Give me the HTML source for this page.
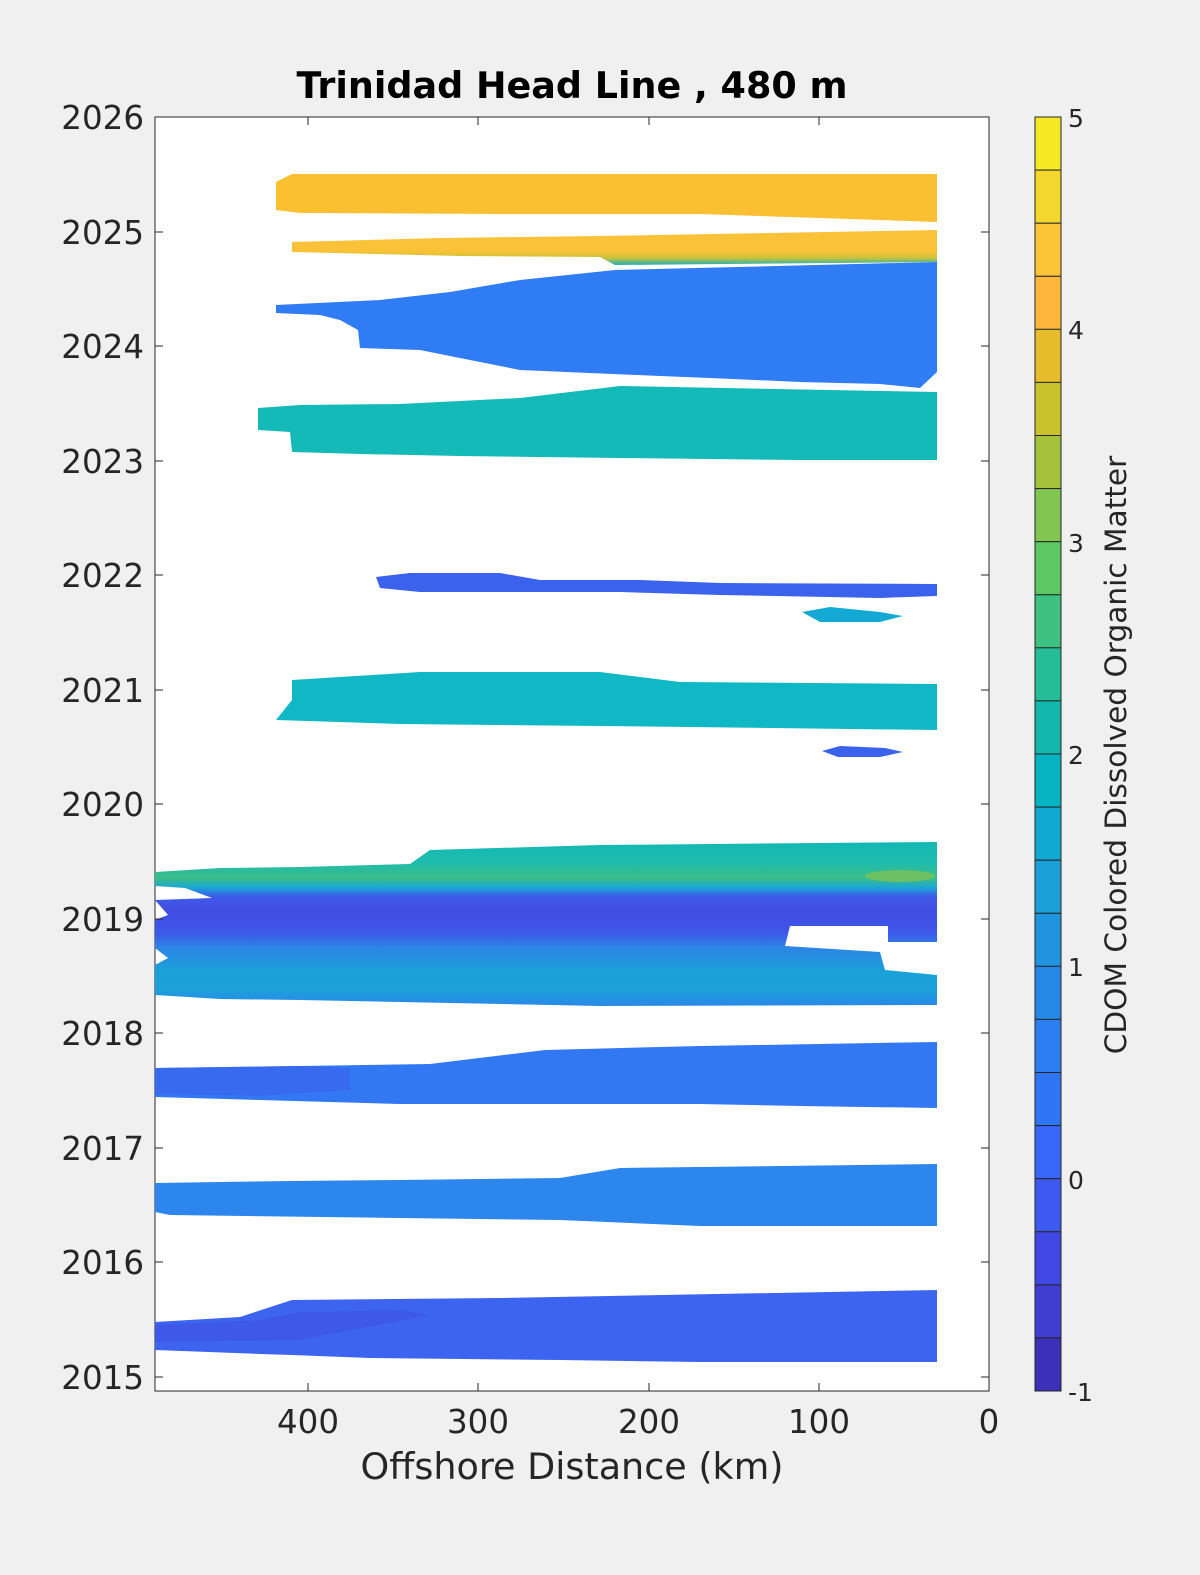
<!DOCTYPE html>
<html><head><meta charset="utf-8"><style>
html,body{margin:0;padding:0;background:#f0f0f0;overflow:hidden;}
svg{display:block;font-family:"DejaVu Sans","Liberation Sans",sans-serif;}
</style></head><body>
<svg width="1200" height="1575" viewBox="0 0 1200 1575" xmlns="http://www.w3.org/2000/svg">
<defs>
<linearGradient id="g19" x1="0" y1="0" x2="0" y2="1">
<stop offset="0" stop-color="#12b8b4"/>
<stop offset="0.12" stop-color="#1ebcae"/>
<stop offset="0.22" stop-color="#39bd8a"/>
<stop offset="0.28" stop-color="#1aa5d6"/>
<stop offset="0.33" stop-color="#3d5ce8"/>
<stop offset="0.42" stop-color="#434de3"/>
<stop offset="0.55" stop-color="#3d57ea"/>
<stop offset="0.65" stop-color="#2c86e6"/>
<stop offset="0.8" stop-color="#1aa3d8"/>
<stop offset="0.9" stop-color="#1ca0da"/>
<stop offset="1" stop-color="#2a88e8"/>
</linearGradient>
<linearGradient id="g25" x1="0" y1="0" x2="0" y2="1">
<stop offset="0" stop-color="#f8c23a"/>
<stop offset="0.6" stop-color="#fbc237"/>
<stop offset="0.8" stop-color="#c9c33a"/>
<stop offset="1" stop-color="#19b0b8"/>
</linearGradient>
</defs>
<rect x="155" y="117" width="834" height="1274" fill="#fff" stroke="#262626" stroke-width="1"/>
<path d="M276,182 L292,174 L937,174 L937,222 L880,220 L700,214 L500,214 L300,213 L276,210 Z" fill="#fbc032"/>
<path d="M292,242 L440,238 L600,236 L937,230 L937,262 L615,265 L600,257 L460,256 L292,252 Z" fill="url(#g25)"/>
<path d="M276,305 L380,300 L450,292 L520,280 L615,270 L937,262 L937,372 L920,388 L880,384 L800,382 L710,378 L660,376 L520,370 L470,360 L420,350 L360,348 L358,330 L340,320 L320,315 L276,313 Z" fill="#2f7cf5"/>
<path d="M258,408 L300,405 L400,404 L520,398 L620,386 L937,392 L937,460 L800,460 L620,458 L460,456 L360,454 L292,452 L290,432 L258,430 Z" fill="#13bab8"/>
<path d="M376,577 L410,573 L500,573 L540,580 L640,580 L720,583 L937,584 L937,596 L880,598 L720,595 L620,592 L530,592 L420,592 L380,588 Z" fill="#3b62ec"/>
<path d="M802,612 L830,607 L880,612 L903,616 L880,622 L820,622 Z" fill="#14a8d4"/>
<path d="M292,680 L420,672 L600,672 L680,682 L937,684 L937,730 L600,726 L400,724 L276,720 L292,700 Z" fill="#0fb8c4"/>
<path d="M822,751 L840,746 L885,748 L903,752 L880,757 L838,757 Z" fill="#3b62ec"/>
<path d="M155,872 L220,868 L300,867 L410,864 L430,850 L600,845 L937,842 L937,942 L888,942 L888,926 L790,926 L785,946 L880,952 L885,970 L937,975 L937,1005 L600,1006 L450,1003 L300,1000 L220,999 L155,995 L155,965 L168,958 L155,948 L155,920 L168,915 L155,900 L212,898 L185,888 L155,886 Z" fill="url(#g19)"/>
<ellipse cx="900" cy="876" rx="35" ry="6" fill="#7cc257" opacity="0.8"/>
<path d="M155,1068 L300,1066 L430,1064 L545,1050 L700,1046 L937,1042 L937,1108 L800,1106 L700,1104 L540,1104 L400,1104 L260,1100 L155,1097 Z" fill="#3278f3"/>
<path d="M155,1068 L300,1066 L350,1068 L350,1090 L260,1096 L155,1094 Z" fill="#3a66ee" opacity="0.8"/>
<path d="M155,1183 L290,1181 L400,1180 L560,1178 L620,1168 L937,1164 L937,1226 L700,1226 L560,1220 L400,1218 L170,1215 L155,1212 Z" fill="#2d86ee"/>
<path d="M155,1322 L240,1317 L292,1300 L500,1298 L937,1290 L937,1362 L700,1362 L560,1360 L370,1358 L292,1355 L260,1354 L155,1350 Z" fill="#3d64f1"/>
<path d="M155,1325 L260,1320 L300,1312 L400,1310 L430,1315 L300,1340 L155,1342 Z" fill="#4050e2" opacity="0.6"/>
<g stroke="#262626" stroke-width="1">
<line x1="155" y1="117" x2="163" y2="117"/><line x1="155" y1="232" x2="163" y2="232"/><line x1="155" y1="346" x2="163" y2="346"/><line x1="155" y1="461" x2="163" y2="461"/><line x1="155" y1="575" x2="163" y2="575"/><line x1="155" y1="690" x2="163" y2="690"/><line x1="155" y1="804" x2="163" y2="804"/><line x1="155" y1="919" x2="163" y2="919"/><line x1="155" y1="1033" x2="163" y2="1033"/><line x1="155" y1="1148" x2="163" y2="1148"/><line x1="155" y1="1262" x2="163" y2="1262"/><line x1="155" y1="1377" x2="163" y2="1377"/>
<line x1="981" y1="232" x2="989" y2="232"/><line x1="981" y1="346" x2="989" y2="346"/><line x1="981" y1="461" x2="989" y2="461"/><line x1="981" y1="575" x2="989" y2="575"/><line x1="981" y1="690" x2="989" y2="690"/><line x1="981" y1="804" x2="989" y2="804"/><line x1="981" y1="919" x2="989" y2="919"/><line x1="981" y1="1033" x2="989" y2="1033"/><line x1="981" y1="1148" x2="989" y2="1148"/><line x1="981" y1="1262" x2="989" y2="1262"/><line x1="981" y1="1377" x2="989" y2="1377"/>
<line x1="308" y1="1391" x2="308" y2="1383"/><line x1="478" y1="1391" x2="478" y2="1383"/><line x1="649" y1="1391" x2="649" y2="1383"/><line x1="819" y1="1391" x2="819" y2="1383"/>
<line x1="308" y1="117" x2="308" y2="125"/><line x1="478" y1="117" x2="478" y2="125"/><line x1="649" y1="117" x2="649" y2="125"/><line x1="819" y1="117" x2="819" y2="125"/>
</g>
<g font-size="32.5" fill="#262626" text-anchor="end">
<text x="144" y="129">2026</text><text x="144" y="244">2025</text><text x="144" y="358">2024</text><text x="144" y="473">2023</text><text x="144" y="587">2022</text><text x="144" y="702">2021</text><text x="144" y="816">2020</text><text x="144" y="931">2019</text><text x="144" y="1045">2018</text><text x="144" y="1160">2017</text><text x="144" y="1274">2016</text><text x="144" y="1389">2015</text>
</g>
<g font-size="32.5" fill="#262626" text-anchor="middle">
<text x="308" y="1433">400</text><text x="478" y="1433">300</text><text x="649" y="1433">200</text><text x="819" y="1433">100</text><text x="989" y="1433">0</text>
<text x="572" y="1479" font-size="36.5">Offshore Distance (km)</text>
<text x="572" y="98" font-size="36.5" font-weight="bold" fill="#000">Trinidad Head Line , 480 m</text>
</g>
<g stroke="#262626" stroke-width="1">
<rect x="1035" y="117" width="26" height="53.1" fill="#f5e924"/>
<rect x="1035" y="170.1" width="26" height="53.1" fill="#f4d72c"/>
<rect x="1035" y="223.2" width="26" height="53.1" fill="#fcc537"/>
<rect x="1035" y="276.3" width="26" height="53.1" fill="#fbb63b"/>
<rect x="1035" y="329.3" width="26" height="53.1" fill="#e6bc2c"/>
<rect x="1035" y="382.4" width="26" height="53.1" fill="#cbc12a"/>
<rect x="1035" y="435.5" width="26" height="53.1" fill="#a6c23c"/>
<rect x="1035" y="488.6" width="26" height="53.1" fill="#80c650"/>
<rect x="1035" y="541.7" width="26" height="53.1" fill="#5cc864"/>
<rect x="1035" y="594.8" width="26" height="53.1" fill="#3ec080"/>
<rect x="1035" y="647.8" width="26" height="53.1" fill="#24bd96"/>
<rect x="1035" y="700.9" width="26" height="53.1" fill="#12b8ab"/>
<rect x="1035" y="754" width="26" height="53.1" fill="#06b4c2"/>
<rect x="1035" y="807.1" width="26" height="53.1" fill="#11a9d2"/>
<rect x="1035" y="860.2" width="26" height="53.1" fill="#1a9fd9"/>
<rect x="1035" y="913.3" width="26" height="53.1" fill="#2094de"/>
<rect x="1035" y="966.3" width="26" height="53.1" fill="#2688e6"/>
<rect x="1035" y="1019.4" width="26" height="53.1" fill="#2c7ff0"/>
<rect x="1035" y="1072.5" width="26" height="53.1" fill="#3074f6"/>
<rect x="1035" y="1125.6" width="26" height="53.1" fill="#3867fa"/>
<rect x="1035" y="1178.7" width="26" height="53.1" fill="#3e58f2"/>
<rect x="1035" y="1231.8" width="26" height="53.1" fill="#4049e4"/>
<rect x="1035" y="1284.8" width="26" height="53.1" fill="#3f3ed0"/>
<rect x="1035" y="1337.9" width="26" height="53.1" fill="#3d30b8"/>
</g>
<g font-size="25" fill="#262626">
<text x="1068" y="127">5</text><text x="1068" y="339">4</text><text x="1068" y="552">3</text><text x="1068" y="764">2</text><text x="1068" y="976">1</text><text x="1068" y="1189">0</text><text x="1068" y="1401">-1</text>
</g>
<text transform="translate(1126,755) rotate(-90)" font-size="29.6" fill="#262626" text-anchor="middle">CDOM Colored Dissolved Organic Matter</text>
</svg>
</body></html>
